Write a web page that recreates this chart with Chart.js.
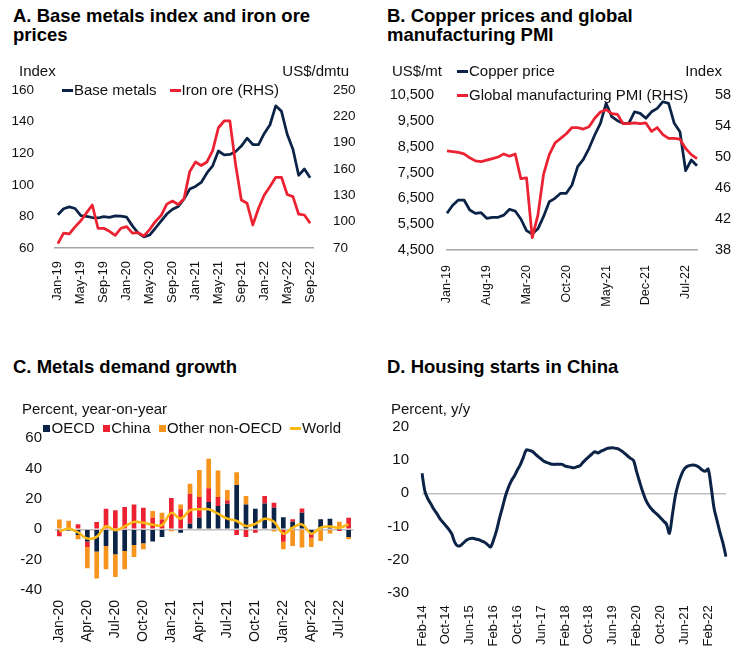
<!DOCTYPE html>
<html>
<head>
<meta charset="utf-8">
<title>Metals markets</title>
<script src="https://cdn.jsdelivr.net/npm/chart.js@4/dist/chart.umd.min.js"></script>
<style>
	html, body { margin: 0; padding: 0; background: #fff; overflow: hidden; }
	#page { position: relative; width: 739px; height: 655px; font-family: "Liberation Sans", Arial, sans-serif; color: #111; }
	#page canvas, .title, .unit, .legend { position: absolute; }
	.title { font-weight: bold; font-size: 18.5px; line-height: 19px; color: #000; white-space: nowrap; }
	.unit { font-size: 15px; line-height: 16px; white-space: nowrap; }
	.legend { display: flex; font-size: 15px; line-height: 24px; white-space: nowrap; }
	.legend.rows { flex-direction: column; }
	.legend .item { display: flex; align-items: center; }
	.legend .dash { display: inline-block; width: 11px; height: 3px; margin-right: 1px; }
	.legend .square { display: inline-block; width: 7px; height: 7px; margin-right: 1.5px; }
</style>
</head>
<body>
<div id="page">
	<canvas id="chartA" width="370" height="237" style="left:0;top:78px"></canvas>
	<canvas id="chartB" width="369" height="237" style="left:370px;top:78px"></canvas>
	<canvas id="chartC" width="370" height="230" style="left:0;top:425px"></canvas>
	<canvas id="chartD" width="369" height="240" style="left:370px;top:415px"></canvas>

	<div class="title" style="left:13px;top:6px">A. Base metals index and iron ore<br>prices</div>
	<div class="unit" style="left:19px;top:63px">Index</div>
	<div class="unit" style="right:390px;top:63px">US$/dmtu</div>
	<div class="legend" id="legendA" style="left:62px;top:78px"></div>

	<div class="title" style="left:387px;top:6px">B. Copper prices and global<br>manufacturing PMI</div>
	<div class="unit" style="left:392px;top:63px">US$/mt</div>
	<div class="unit" style="right:17px;top:63px">Index</div>
	<div class="legend rows" id="legendB" style="left:457px;top:59px"></div>

	<div class="title" style="left:13px;top:357px">C. Metals demand growth</div>
	<div class="unit" style="left:22px;top:401px">Percent, year-on-year</div>
	<div class="legend" id="legendC" style="left:43px;top:416px"></div>

	<div class="title" style="left:387px;top:357px">D. Housing starts in China</div>
	<div class="unit" style="left:391px;top:401px">Percent, y/y</div>
</div>

<script>
// A. base metals index (LHS) and iron ore, US$/dmtu (RHS), Jan-19 to Sep-22
var baseMetals = [81, 84.8, 86, 85, 80.5, 80, 79.3, 79, 79.9, 79.4, 80.3, 80.2, 79.5, 74, 69.5, 67, 68.2, 72.5, 77, 81.5,
	84.5, 86.3, 91, 97.3, 99, 101.5, 107.5, 112, 121.4, 119, 119.2, 121, 124.5, 129.5, 125.5, 125.5, 132.5, 138, 150, 146.5,
	132, 122.5, 106, 110, 104.5];
var ironOre = [75, 87, 86, 94, 101, 110, 119, 92.5, 92.5, 89, 84.5, 92.5, 94.3, 87, 87.5, 83.7, 91, 100, 107, 120,
	123.5, 119.5, 126, 157, 168, 164, 168, 181, 207, 214.7, 214.7, 165, 124.7, 121, 96.2, 115.3, 130.4, 140, 150.5, 150.6,
	131, 128.5, 108.5, 107.6, 98.2];
var ticksA = ['Jan-19', 'May-19', 'Sep-19', 'Jan-20', 'May-20', 'Sep-20', 'Jan-21', 'May-21', 'Sep-21', 'Jan-22', 'May-22', 'Sep-22'];

// B. copper, US$/mt (LHS) and global manufacturing PMI (RHS), Jan-19 to Sep-22
var copper = [5920, 6230, 6435, 6435, 6050, 5920, 5944, 5726, 5765, 5765, 5850, 6075, 6010, 5700, 5250, 5119, 5320, 5800, 6370, 6500,
	6694, 6694, 7016, 7725, 8010, 8437, 8951, 9404, 10178, 9660, 9505, 9404, 9404, 9850, 9790, 9600, 9850, 9985, 10240, 10178,
	9404, 9080, 7570, 7984, 7764];
var pmi = [50.8, 50.7, 50.6, 50.4, 49.9, 49.5, 49.4, 49.6, 49.8, 50, 50.4, 50.1, 50.4, 47.2, 47.3, 39.6, 42.5, 47.8, 50.3, 51.8,
	52.4, 53, 53.8, 53.8, 53.6, 53.9, 55, 55.8, 56.1, 55.6, 55.5, 54.3, 54.3, 54.4, 54.3, 54.4, 53.3, 53.8, 52.9, 52.4,
	52.4, 52.3, 51.1, 50.3, 49.8];
var ticksB = ['Jan-19', 'Aug-19', 'Mar-20', 'Oct-20', 'May-21', 'Dec-21', 'Jul-22'];

// C. metals demand growth by region, percent y/y, Jan-20 to Aug-22
var oecd = [-0.6, -0.7, -3.7, -8.1, -14.7, -11, -16.4, -14.3, -10.3, -9.2, -8, -5, 0, -2.2, 3.7, 7.7,
	18, 15.4, 16.9, 29.2, 16.4, 13.6, 17.1, 14.3, 7.9, 5, 11, -3.3, 6.6, 7, -0.3, -5];
var china = [-3.9, 0.3, 3.3, -3.5, 4.8, 13.6, 12.5, 14.7, 16.4, 14.3, 7.7, 6.5, 20.6, 13.2, 19.8, 13.6,
	9, 5.9, 2.2, -3.7, -5, -2.2, 4.8, 3.2, -8.2, 1.6, 2.8, -2.2, 0, -0.5, -0.8, 7.7];
var otherNonOecd = [6.5, 5.3, -2.9, -14, -17.8, -15.4, -15, -12, -7.9, -3.9, 4.4, 4.5, -1.2, 3.2, 6.6, 17.8,
	19.5, 17.5, 6.8, 8.5, 5.5, 0, 0, -1.5, -5, -11, -12, -6.1, -7.7, -2.2, 5, -1.5];
var world = [-1.5, 0.4, -2, -6.1, -5, 2, -0.6, 2, 4.9, 4.3, 3.1, 2.8, 10.8, 7.1, 12.5, 13.2,
	13.2, 10.3, 7, 5.5, 2.2, 3.6, 7, 5, -2.9, 1.1, 3.3, -2.9, 1.1, 1.8, 1.1, 3.3];
var ticksC = ['Jan-20', 'Apr-20', 'Jul-20', 'Oct-20', 'Jan-21', 'Apr-21', 'Jul-21', 'Oct-21', 'Jan-22', 'Apr-22', 'Jul-22'];

// D. China housing starts, percent y/y, Feb-14 to Aug-22
var housingStarts = [6, 0.5, -1.7, -3.2, -4.8, -6.1, -7.6, -8.7, -9.7, -10.8, -12.2, -14.7, -15.8, -15.6, -14.8, -14, -13.6, -13.5, -13.7, -13.9,
	-14.3, -14.7, -15.4, -16.1, -14, -11.2, -7.5, -4.2, -0.8, 1.8, 3.8, 5.2, 7, 8.6, 10.8, 13, 12.9, 12.6, 11.8, 11,
	10.3, 9.6, 9.2, 8.9, 8.7, 8.7, 8.7, 8.7, 8.2, 8, 7.8, 7.7, 8, 8.3, 9.3, 10.2, 11, 11.8, 12.5, 12.1,
	12.6, 13, 13.4, 13.6, 13.7, 13.5, 13.3, 12.7, 12, 11.2, 10.5, 9.8, 6.5, 3.5, 0.6, -1.8, -3.5, -4.7, -5.6, -6.4,
	-7.3, -8.3, -9.2, -12, -6.5, -0.8, 2.9, 5.5, 7.3, 8.1, 8.4, 8.5, 8.3, 7.8, 7, 6.6, 7.3, 2, -4.5, -8.2,
	-11.8, -15, -19];
var ticksD = ['Feb-14', 'Oct-14', 'Jun-15', 'Feb-16', 'Oct-16', 'Jun-17', 'Feb-18', 'Oct-18', 'Jun-19', 'Feb-20', 'Oct-20', 'Jun-21', 'Feb-22'];

var NAVY = '#0b2346';
var RED = '#ec2232';
var ORANGE = '#f7941d';
var GOLD = '#fdb813';
var AXIS = '#a6a6a6';
var ZERO = '#bfbfbf';

var MONTHS = ['Jan', 'Feb', 'Mar', 'Apr', 'May', 'Jun', 'Jul', 'Aug', 'Sep', 'Oct', 'Nov', 'Dec'];

// 'Jan-19', 'Feb-19', ... for count months from the first one
function monthLabels(first, count) {
	var m = MONTHS.indexOf(first.slice(0, 3));
	var y = +first.slice(4);
	var out = [];
	for (var i = 0; i < count; i++) {
		out.push(MONTHS[m] + '-' + (y < 10 ? '0' + y : y));
		if (++m === 12) { m = 0; y++; }
	}
	return out;
}

// only print the category labels that are in the list
function pickLabels(list) {
	return function(value) {
		var label = this.getLabelForValue(value);
		return list.indexOf(label) >= 0 ? label : '';
	};
}

// pin the axis boxes so the plot areas line up; layout.padding does the rest
function fixWidth(w) {
	return function(scale) {
		scale.width = w;
		scale.paddingTop = 0;
		scale.paddingBottom = 0;
	};
}
function fixHeight(h) {
	return function(scale) {
		scale.height = h;
		scale.paddingLeft = 0;
		scale.paddingRight = 0;
	};
}

// only the zero line gets a colour
function zeroLine(ctx) {
	return ctx.tick && ctx.tick.value === 0 ? ZERO : 'rgba(0,0,0,0)';
}

function xAxis(list, size, pad, height, opts) {
	var axis = {
		grid: { display: false },
		border: { display: false },
		ticks: {
			autoSkip: false,
			minRotation: 90,
			maxRotation: 90,
			padding: pad,
			color: '#111',
			font: { size: size },
			callback: pickLabels(list)
		},
		afterFit: fixHeight(height)
	};
	return Object.assign(axis, opts || {});
}

function yAxis(min, max, step, size, pad, width, opts) {
	var axis = {
		min: min,
		max: max,
		grid: { display: false },
		border: { display: false },
		ticks: { stepSize: step, padding: pad, color: '#111', font: { size: size } },
		afterFit: fixWidth(width)
	};
	return Object.assign(axis, opts || {});
}

// legend as html, built from the chart's own datasets
function htmlLegend(id, chart, gap) {
	var box = document.getElementById(id);
	chart.data.datasets.forEach(function(ds, i) {
		var isLine = (ds.type || chart.config.type) === 'line';
		var item = document.createElement('span');
		item.className = 'item';
		if (i > 0 && gap) item.style.marginLeft = gap + 'px';

		var mark = document.createElement('i');
		mark.className = isLine ? 'dash' : 'square';
		mark.style.background = isLine ? ds.borderColor : ds.backgroundColor;

		item.appendChild(mark);
		item.appendChild(document.createTextNode(ds.label));
		box.appendChild(item);
	});
}

Chart.defaults.font.family = '"Liberation Sans", Arial, sans-serif';
Chart.defaults.color = '#111';
Chart.defaults.animation = false;
Chart.defaults.responsive = false;
Chart.defaults.plugins.legend.display = false;
Chart.defaults.plugins.tooltip.enabled = false;
Chart.defaults.elements.point.radius = 0;
Chart.defaults.elements.line.borderJoinStyle = 'round';

// A
var chartA = new Chart(document.getElementById('chartA'), {
	type: 'line',
	data: {
		labels: monthLabels('Jan-19', baseMetals.length),
		datasets: [
			{ label: 'Base metals', data: baseMetals, borderColor: NAVY, borderWidth: 2.75, yAxisID: 'y', order: 2 },
			{ label: 'Iron ore (RHS)', data: ironOre, borderColor: RED, borderWidth: 2.75, yAxisID: 'y1', order: 1 }
		]
	},
	options: {
		layout: { padding: { top: 12 } },
		scales: {
			x: xAxis(ticksA, 13, 5, 67, { offset: true, border: { color: AXIS, width: 1.5 } }),
			y: yAxis(60, 160, 20, 13.5, 13, 55),
			y1: yAxis(70, 250, 30, 13.5, 12, 57, { position: 'right' })
		}
	}
});
htmlLegend('legendA', chartA, 13);

// B
var chartB = new Chart(document.getElementById('chartB'), {
	type: 'line',
	data: {
		labels: monthLabels('Jan-19', copper.length),
		datasets: [
			{ label: 'Copper price', data: copper, borderColor: NAVY, borderWidth: 2.75, yAxisID: 'y', order: 2 },
			{ label: 'Global manufacturing PMI (RHS)', data: pmi, borderColor: RED, borderWidth: 2.75, yAxisID: 'y1', order: 1 }
		]
	},
	options: {
		layout: { padding: { top: 17 } },
		scales: {
			x: xAxis(ticksB, 12.5, 7, 65, { offset: false, border: { color: AXIS, width: 1.5 } }),
			y: yAxis(4500, 10500, 1000, 14.5, 5, 77),
			y1: yAxis(38, 58, 4, 14.5, 10, 42, { position: 'right' })
		}
	}
});
htmlLegend('legendB', chartB, 0);

// C
var chartC = new Chart(document.getElementById('chartC'), {
	type: 'bar',
	data: {
		labels: monthLabels('Jan-20', oecd.length),
		datasets: [
			{ label: 'OECD', data: oecd, backgroundColor: NAVY, order: 1 },
			{ label: 'China', data: china, backgroundColor: RED, order: 1 },
			{ label: 'Other non-OECD', data: otherNonOecd, backgroundColor: ORANGE, order: 1 },
			{ type: 'line', label: 'World', data: world, borderColor: GOLD, borderWidth: 2.5, tension: 0.4, order: 0 }
		]
	},
	options: {
		layout: { padding: { top: 13.3, right: 16.7 } },
		datasets: { bar: { barPercentage: 0.5, categoryPercentage: 1 } },
		scales: {
			x: xAxis(ticksC, 14, 2, 65, { stacked: true, offset: true }),
			y: yAxis(-40, 60, 20, 15, 12.7, 54.7, {
				stacked: true,
				grid: { display: true, drawTicks: false, color: zeroLine, lineWidth: 1.5 }
			})
		}
	}
});
htmlLegend('legendC', chartC, 8);

// D
var chartD = new Chart(document.getElementById('chartD'), {
	type: 'line',
	data: {
		labels: monthLabels('Feb-14', housingStarts.length),
		datasets: [
			{ label: 'Housing starts', data: housingStarts, borderColor: NAVY, borderWidth: 3, tension: 0.3 }
		]
	},
	options: {
		layout: { padding: { top: 11.7, right: 13 } },
		scales: {
			x: xAxis(ticksD, 13, 4, 61.7, { offset: false }),
			y: yAxis(-30, 20, 10, 15, 13, 52, {
				grid: { display: true, drawTicks: false, color: zeroLine, lineWidth: 1.5 }
			})
		}
	}
});
</script>
</body>
</html>
